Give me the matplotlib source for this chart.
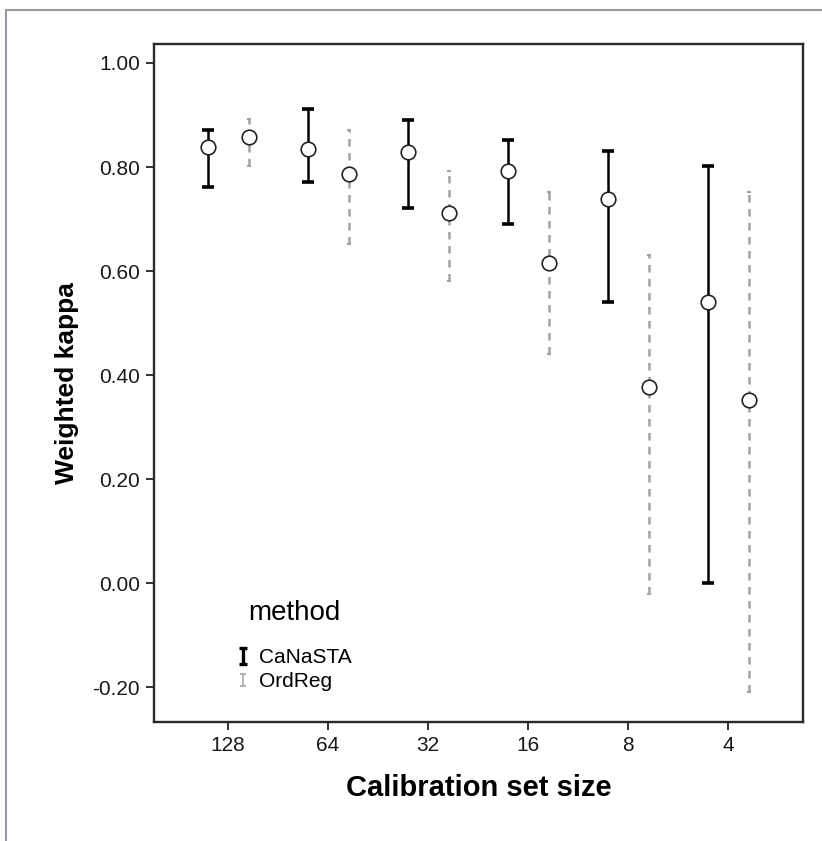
import matplotlib
matplotlib.use("Agg")
import matplotlib.pyplot as plt
import numpy as np
from matplotlib.path import Path
from matplotlib.lines import Line2D

plt.rcParams['font.family'] = ['Liberation Sans', 'DejaVu Sans']

# calibration set sizes (categories) and weighted kappa per method
sizes = ['128', '64', '32', '16', '8', '4']
canasta_mean = [0.838, 0.834, 0.828, 0.793, 0.738, 0.540]
canasta_low = [0.761, 0.771, 0.721, 0.690, 0.541, 0.000]
canasta_high = [0.872, 0.911, 0.891, 0.852, 0.831, 0.801]
ordreg_mean = [0.857, 0.787, 0.712, 0.615, 0.378, 0.352]
ordreg_low = [0.802, 0.652, 0.581, 0.440, -0.020, -0.210]
ordreg_high = [0.892, 0.872, 0.793, 0.752, 0.631, 0.752]

x = np.arange(len(sizes))
off = 0.205

fig = plt.figure(figsize=(8.22, 8.41), dpi=100)
ax = fig.add_axes([154/822, 1-722/841, (803-154)/822, (722-44)/841])

# CaNaSTA: black solid bars
cm = np.array(canasta_mean)
eb1 = ax.errorbar(x - off, cm, yerr=[cm - np.array(canasta_low), np.array(canasta_high) - cm],
                  fmt='none', ecolor='black', elinewidth=1.8, capsize=4.3, capthick=2.6, zorder=2)
# OrdReg: grey dashed bars
om = np.array(ordreg_mean)
eb2 = ax.errorbar(x + off, om, yerr=[om - np.array(ordreg_low), np.array(ordreg_high) - om],
                  fmt='none', ecolor='#a3a3a3', elinewidth=1.8, capsize=1.6, capthick=1.5, zorder=2)
eb2[2][0].set_linestyle((0, (3.0, 2.6)))

ax.plot(x - off, cm, 'o', ms=10.5, mfc='white', mec='#222222', mew=1.2, zorder=3)
ax.plot(x + off, om, 'o', ms=10.5, mfc='white', mec='#222222', mew=1.2, zorder=3)

ax.set_xlim(-0.74, 5.75)
ax.set_ylim(-0.267, 1.0365)
ax.set_xticks(x)
ax.set_xticklabels(sizes)
ax.set_yticks([-0.2, 0.0, 0.2, 0.4, 0.6, 0.8, 1.0])
ax.set_yticklabels(['%.2f' % v for v in [-0.2, 0.0, 0.2, 0.4, 0.6, 0.8, 1.0]])
ax.tick_params(direction='out', length=6, width=1.3, colors='#222222',
               labelsize=15, labelcolor='#1a1a1a', pad=4)
for s in ax.spines.values():
    s.set_linewidth(1.7)
    s.set_color('#2a2a2a')

ax.set_xlabel('Calibration set size', fontsize=21, fontweight='bold', labelpad=14)
ax.set_ylabel('Weighted kappa', fontsize=19, fontweight='bold', labelpad=10)

# legend with small error-bar icons
ibeam = Path([(-0.5, 1), (0.5, 1), (0, 1), (0, -1), (-0.5, -1), (0.5, -1)],
             [Path.MOVETO, Path.LINETO, Path.MOVETO, Path.LINETO, Path.MOVETO, Path.LINETO])
h1 = Line2D([], [], ls='none', marker=ibeam, ms=11, mew=2.4, mec='black')
h2 = Line2D([], [], ls='none', marker=ibeam, ms=9, mew=1.3, mec='#b0b0b0')
leg = ax.legend([h1, h2], ['CaNaSTA', 'OrdReg'], title='method', loc='upper left',
                bbox_to_anchor=(0.098, 0.208), frameon=False, fontsize=15,
                title_fontsize=20, handlelength=0.6, handletextpad=0.5,
                labelspacing=0.25)
leg._legend_box.sep = 16

# outer panel border (top and left)
fig.add_artist(Line2D([6/822, 6/822], [0, 1-10/841], transform=fig.transFigure,
                      color='#8e9cad', lw=1.5))
fig.add_artist(Line2D([6/822, 1], [1-10/841, 1-10/841], transform=fig.transFigure,
                      color='#8e9cad', lw=1.5))

fig.savefig('out.png', dpi=100)
